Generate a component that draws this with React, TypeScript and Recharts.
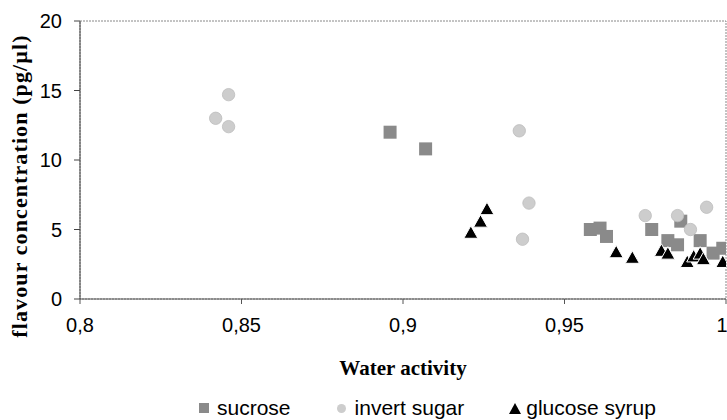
import React from 'react';
import { ScatterChart, Scatter, XAxis, YAxis, ReferenceArea } from 'recharts';

// water activity (x) and flavour concentration (y)
const sucroseAw = [0.896, 0.907, 0.958, 0.961, 0.963, 0.977, 0.986, 0.982, 0.985, 0.992, 0.996, 0.999];
const sucroseFlavour = [12.0, 10.8, 5.0, 5.1, 4.5, 5.0, 5.6, 4.2, 3.9, 4.2, 3.3, 3.65];

const invertAw = [0.842, 0.846, 0.846, 0.936, 0.939, 0.937, 0.975, 0.985, 0.989, 0.994];
const invertFlavour = [13.0, 14.7, 12.4, 12.1, 6.9, 4.3, 6.0, 6.0, 5.0, 6.6];

const glucoseAw = [0.921, 0.924, 0.926, 0.966, 0.971, 0.98, 0.982, 0.988, 0.99, 0.992, 0.993, 0.999];
const glucoseFlavour = [4.8, 5.6, 6.5, 3.4, 3.0, 3.5, 3.3, 2.7, 3.1, 3.3, 2.9, 2.7];

const xTicks = [0.8, 0.85, 0.9, 0.95, 1];
const yTicks = [0, 5, 10, 15, 20];

const zip = (xs: number[], ys: number[]) => xs.map((x, i) => ({ aw: x, flavour: ys[i] }));

const sucrose = zip(sucroseAw, sucroseFlavour);
const invert = zip(invertAw, invertFlavour);
const glucose = zip(glucoseAw, glucoseFlavour);

const SANS = '"Liberation Sans", Arial, sans-serif';
const SERIF = '"Liberation Serif", "Times New Roman", serif';

const SquareDot = (p: any) => (
  <rect x={p.cx - 6.5} y={p.cy - 6.5} width={13} height={13} fill="#8a8a8a" />
);
const CircleDot = (p: any) => (
  <circle cx={p.cx} cy={p.cy} r={6.2} fill="#cdcdcd" stroke="#bdbdbd" strokeWidth={0.8} />
);
const TriangleDot = (p: any) => (
  <polygon
    points={`${p.cx},${p.cy - 6.5} ${p.cx + 7},${p.cy + 6} ${p.cx - 7},${p.cy + 6}`}
    fill="#000"
    stroke="#fff"
    strokeWidth={1}
  />
);

const fmt = (v: number) => String(v).replace('.', ',');

export default function App() {
  return (
    <div style={{ position: 'absolute', left: 0, top: 0, width: 727, height: 420, background: '#fff' }}>
      <ScatterChart width={727} height={420} margin={{ top: 21, right: 1, left: 0, bottom: 0 }}>
        <XAxis
          type="number"
          dataKey="aw"
          domain={[0.8, 1]}
          ticks={xTicks}
          tickFormatter={fmt}
          height={121}
          tickSize={5}
          tickMargin={14}
          stroke="#555"
          tick={{ fill: '#000', fontSize: 20, fontFamily: SANS }}
          allowDataOverflow
          label={{
            content: (props: any) => {
              const vb = props.viewBox;
              return (
                <text
                  x={vb.x + vb.width / 2}
                  y={vb.y + 76}
                  textAnchor="middle"
                  fontFamily={SERIF}
                  fontWeight="bold"
                  fontSize={21}
                  fill="#000"
                >
                  Water activity
                </text>
              );
            },
          }}
        />
        <YAxis
          type="number"
          dataKey="flavour"
          domain={[0, 20]}
          ticks={yTicks}
          width={80}
          tickSize={6}
          tickMargin={12}
          stroke="#444"
          tick={{ fill: '#000', fontSize: 20, fontFamily: SANS }}
          label={{
            content: (props: any) => {
              const vb = props.viewBox;
              const cx = vb.x + 19;
              const cy = vb.y + vb.height / 2 + 26;
              return (
                <text
                  x={cx}
                  y={cy}
                  transform={`rotate(-90, ${cx}, ${cy})`}
                  textAnchor="middle"
                  dominantBaseline="central"
                  fontFamily={SERIF}
                  fontWeight="bold"
                  fontSize={22}
                  letterSpacing={1.1}
                  fill="#000"
                >
                  flavour concentration (pg/µl)
                </text>
              );
            },
          }}
        />
        <ReferenceArea
          x1={0.8}
          x2={1}
          y1={0}
          y2={20}
          fill="none"
          stroke="#888"
          strokeDasharray="2 1"
          ifOverflow="visible"
        />
        <Scatter name="sucrose" data={sucrose} shape={SquareDot} isAnimationActive={false} />
        <Scatter name="invert sugar" data={invert} shape={CircleDot} isAnimationActive={false} />
        <Scatter name="glucose syrup" data={glucose} shape={TriangleDot} isAnimationActive={false} />
      </ScatterChart>
      <div
        style={{
          position: 'absolute',
          left: 199,
          top: 397,
          display: 'flex',
          alignItems: 'center',
          fontFamily: SANS,
          fontSize: 21,
          color: '#000',
          lineHeight: '22px',
          whiteSpace: 'nowrap',
        }}
      >
        <svg width={10} height={10} style={{ marginRight: 8 }}>
          <rect x={0} y={0} width={10} height={10} fill="#8a8a8a" />
        </svg>
        <span style={{ marginRight: 46 }}>sucrose</span>
        <svg width={9} height={9} style={{ marginRight: 9 }}>
          <circle cx={4.5} cy={4.5} r={4.5} fill="#cdcdcd" />
        </svg>
        <span style={{ marginRight: 45 }}>invert sugar</span>
        <svg width={12} height={11} style={{ marginRight: 5 }}>
          <polygon points="6,0 12,11 0,11" fill="#000" />
        </svg>
        <span>glucose syrup</span>
      </div>
    </div>
  );
}
